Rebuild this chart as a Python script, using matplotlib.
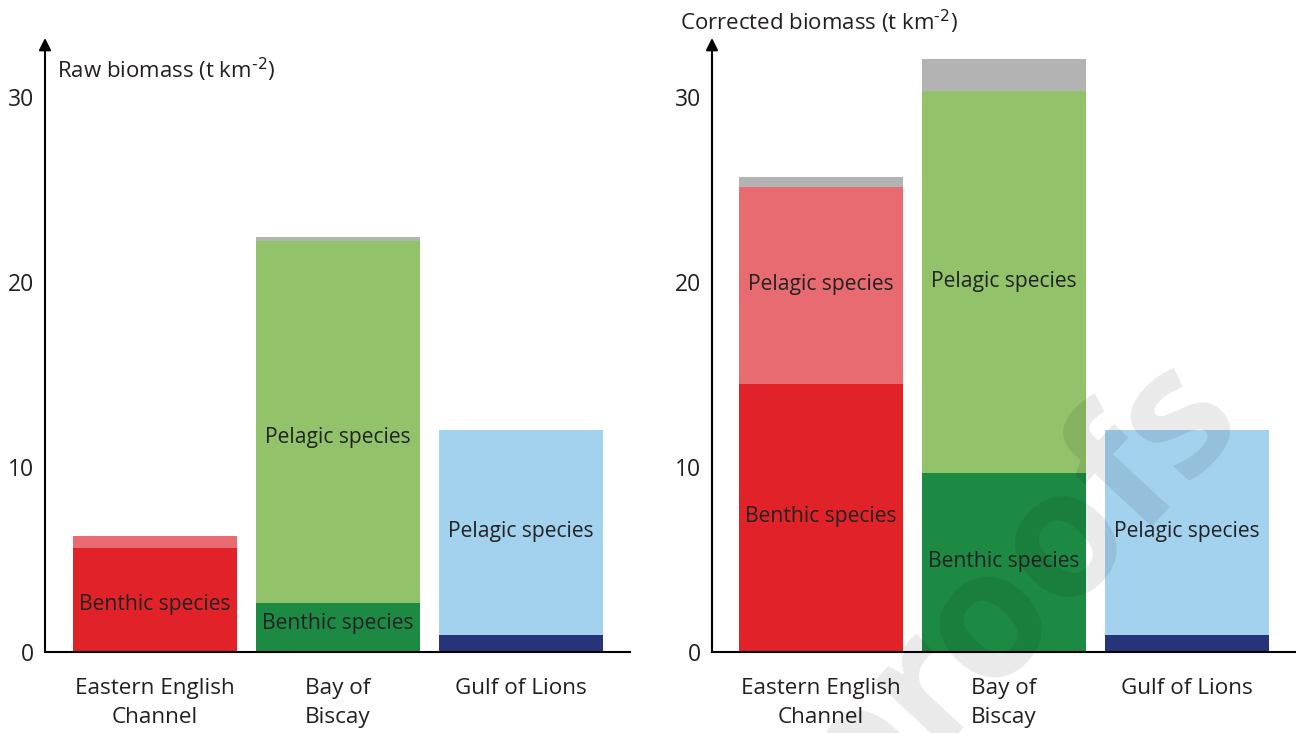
import matplotlib
matplotlib.use("Agg")
import matplotlib.pyplot as plt
import numpy as np

plt.rcParams['font.family'] = ['Open Sans', 'DejaVu Sans']
plt.rcParams['mathtext.default'] = 'regular'

# ---------------- data ----------------
regions = ["Eastern English\nChannel", "Bay of\nBiscay", "Gulf of Lions"]
yticks = [0, 10, 20, 30]

raw_benthic = [5.6, 2.65, 0.9]
raw_pelagic = [0.65, 19.55, 11.1]
raw_other = [0.0, 0.25, 0.0]

cor_benthic = [14.5, 9.7, 0.9]
cor_pelagic = [10.65, 20.6, 11.1]
cor_other = [0.5, 1.75, 0.0]

benthic_colors = ["#e12228", "#1d8a43", "#26357a"]
pelagic_colors = ["#e96b72", "#92c36a", "#a3d2ef"]
other_color = "#b3b3b3"

# label placement (layout only)
raw_labels = [("Benthic species", 0, 2.55), ("Benthic species", 1, 1.55),
              ("Pelagic species", 1, 11.6), ("Pelagic species", 2, 6.5)]
cor_labels = [("Benthic species", 0, 7.3), ("Pelagic species", 0, 19.85),
              ("Benthic species", 1, 4.9), ("Pelagic species", 1, 20.05),
              ("Pelagic species", 2, 6.5)]

W, H = 1296, 733
fig = plt.figure(figsize=(W / 100, H / 100), dpi=100)

y0_px = 652
ytop_px = 38
ymax = 30 * (y0_px - ytop_px) / (652 - 97)
bottom = (H - y0_px) / H
height = (y0_px - ytop_px) / H

spacing = 183.0
bw = 164 / spacing
TXT = "#231f20"

def make_panel(left_px, right_px, center0_px, benthic, pelagic, other, labels):
    ax = fig.add_axes([left_px / W, bottom, (right_px - left_px) / W, height])
    x = np.arange(len(regions))
    ax.bar(x, benthic, width=bw, color=benthic_colors, linewidth=0)
    ax.bar(x, pelagic, width=bw, bottom=benthic, color=pelagic_colors, linewidth=0)
    ax.bar(x, other, width=bw, bottom=np.array(benthic) + np.array(pelagic),
           color=other_color, linewidth=0)
    ax.set_xlim(-(center0_px - left_px) / spacing, (right_px - center0_px) / spacing)
    ax.set_ylim(0, ymax)
    ax.set_xticks(x)
    ax.set_xticklabels(regions, fontsize=16.2, color=TXT, linespacing=1.45)
    ax.set_yticks(yticks)
    ax.set_yticklabels([str(t) for t in yticks], fontsize=16.5, color=TXT)
    ax.tick_params(axis='x', length=0, pad=19)
    ax.tick_params(axis='y', length=0, pad=8)
    for s in ["top", "right", "left"]:
        ax.spines[s].set_visible(False)
    ax.spines["bottom"].set_linewidth(1.5)
    ax.annotate('', xy=(0, 1.0), xytext=(0, 0), xycoords='axes fraction',
                textcoords='axes fraction',
                arrowprops=dict(arrowstyle='-|>', color='black', lw=1.5,
                                mutation_scale=18, shrinkA=0, shrinkB=0),
                annotation_clip=False)
    for txt, i, yv in labels:
        ax.text(i, yv, txt, ha='center', va='center', fontsize=15.2, color="#222222")
    return ax

axL = make_panel(45, 630, 155, raw_benthic, raw_pelagic, raw_other, raw_labels)
axR = make_panel(712, 1296, 820.5, cor_benthic, cor_pelagic, cor_other, cor_labels)

fig.text(57 / W, 1 - 70 / H, r"Raw biomass (t km$^{\text{-2}}$)", fontsize=16,
         ha='left', va='center', color=TXT)
fig.text(680 / W, 1 - 22 / H, r"Corrected biomass (t km$^{\text{-2}}$)", fontsize=16,
         ha='left', va='center', color=TXT)

# watermark
fig.text(1015 / W, 1 - 590 / H, "proofs", fontsize=128, fontweight='bold',
         rotation=47, ha='center', va='center', color='black', alpha=0.085,
         rotation_mode='anchor')

fig.savefig("out.png", dpi=100)
